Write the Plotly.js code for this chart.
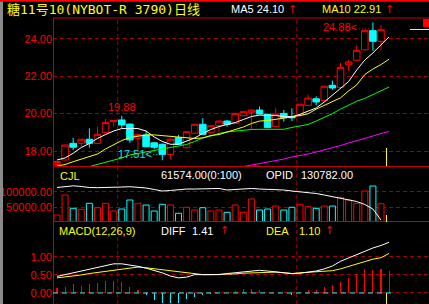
<!DOCTYPE html>
<html><head><meta charset="utf-8">
<script src="https://cdn.plot.ly/plotly-3.0.1.min.js"></script>
<style>html,body{margin:0;padding:0;background:#000;}#chart{width:429px;height:304px;}</style>
</head><body><div id="chart"></div>
<script>
// ---- data ----
const titleText = '糖11号10(NYBOT-R 3790)日线';
const opens  = [17.28,17.52,18.41,18.41,18.63,18.41,19.00,19.57,19.66,19.44,18.68,18.86,18.44,18.36,17.82,18.71,18.18,18.95,19.43,19.00,19.35,19.60,19.48,19.89,20.07,20.19,19.96,19.30,20.01,19.83,19.89,20.44,20.79,20.69,21.51,21.40,22.61,22.85,23.41,24.43,23.86];
const closes = [17.44,18.32,18.20,18.63,18.41,18.89,19.53,19.62,19.39,18.59,18.89,18.23,18.20,17.82,18.63,18.36,19.03,19.43,18.89,19.35,19.60,19.43,20.01,20.10,20.19,19.98,19.25,19.96,19.78,19.78,20.50,20.83,20.62,21.46,21.37,22.47,22.76,23.38,24.43,23.86,24.48];
const highs  = [17.47,18.35,18.71,18.65,19.21,19.30,19.71,19.64,19.88,19.47,18.92,19.07,18.47,18.40,18.66,18.86,19.06,19.46,19.75,19.38,19.63,19.66,20.04,20.13,20.22,20.37,19.99,20.31,20.19,20.28,20.53,21.01,20.92,21.49,21.76,22.70,22.88,23.65,24.46,24.88,24.72];
const lows   = [17.26,17.50,18.05,18.23,18.18,18.38,18.97,19.30,19.21,18.44,18.05,18.20,18.09,17.51,17.55,18.33,18.15,18.92,18.86,18.97,19.03,19.30,19.45,19.86,19.12,19.95,19.22,19.27,19.57,19.60,19.86,20.41,20.44,20.66,21.28,21.37,22.26,22.82,23.38,23.36,23.41];
const volumes = [25300,89400,46800,43600,62800,48700,62800,38100,44500,73400,62800,57400,38100,59600,57400,30800,50000,41300,48700,38100,41300,34000,57400,34000,76600,41300,44500,54200,41300,50000,59600,51900,46800,54200,54200,82000,73400,62800,102200,118300,61574];
const openInterest = [171400,172300,173500,172700,171400,171200,171200,171400,172000,172400,172000,170800,168900,167000,167700,168900,169500,169500,169500,170200,170200,168300,168900,170200,170200,169500,169200,168700,168300,167000,166000,165800,163900,162000,160100,158500,156400,153900,150200,144500,130782];
const ma5  = [17.52,17.63,17.88,18.19,18.40,18.67,18.88,19.07,19.20,19.21,19.20,19.07,18.75,18.51,18.36,18.36,18.51,18.70,18.94,19.15,19.31,19.42,19.52,19.68,19.84,19.92,19.92,19.90,19.84,19.83,19.96,20.15,20.30,20.62,20.99,21.39,21.71,22.33,22.86,23.24,23.66,24.10];
const ma10 = [17.20,17.28,17.43,17.57,17.71,17.84,18.11,18.32,18.56,18.72,18.80,18.86,18.86,18.83,18.78,18.75,18.70,18.67,18.70,18.83,18.88,19.02,19.15,19.28,19.47,19.60,19.63,19.68,19.74,19.82,19.90,19.99,20.24,20.43,20.65,20.84,21.21,21.53,22.09,22.38,22.62,22.91];
const ma20 = [null,null,null,null,17.17,17.28,17.41,17.52,17.63,17.79,17.87,17.97,18.05,18.13,18.21,18.29,18.35,18.51,18.70,18.80,18.94,19.02,19.07,19.11,19.15,19.16,19.16,19.16,19.16,19.26,19.34,19.42,19.60,19.79,20.00,20.24,20.46,20.66,20.81,21.02,21.21,21.42];
const ma60 = [null,null,null,null,null,null,null,null,null,null,null,null,null,null,null,null,null,null,null,null,null,null,null,17.17,17.25,17.33,17.41,17.47,17.57,17.68,17.75,17.84,17.95,18.05,18.16,18.29,18.43,18.54,18.67,18.80,18.94,19.04];
const diff = [0.46,0.51,0.56,0.61,0.66,0.72,0.76,0.81,0.81,0.78,0.74,0.69,0.63,0.56,0.47,0.42,0.44,0.51,0.51,0.51,0.51,0.54,0.56,0.59,0.61,0.63,0.61,0.58,0.56,0.54,0.55,0.58,0.61,0.67,0.75,0.88,0.97,1.06,1.17,1.25,1.32,1.41];
const dea  = [0.42,0.44,0.47,0.50,0.54,0.57,0.60,0.63,0.66,0.68,0.72,0.70,0.67,0.64,0.61,0.58,0.56,0.53,0.51,0.51,0.51,0.51,0.53,0.55,0.56,0.58,0.58,0.58,0.56,0.54,0.56,0.58,0.58,0.60,0.62,0.67,0.74,0.81,0.88,0.94,0.98,1.10];
const macdHist = [0.14,0.17,0.25,0.20,0.25,0.28,0.32,0.32,0.31,0.18,0.07,-0.05,-0.20,-0.27,-0.27,-0.27,-0.18,-0.11,-0.06,-0.02,-0.01,-0.01,0.06,0.11,0.11,0.08,-0.01,-0.01,-0.01,-0.05,-0.01,0.07,0.07,0.16,0.23,0.31,0.43,0.53,0.66,0.65,0.67,0.61];
const priceTicks = [18, 20, 22, 24];
const volTicks = [50000, 100000];
const macdTicks = [0, 0.5, 1];
const markHighA = 8, markHighB = 39, markLow = 13;

// ---- helpers / styles ----
const RED = '#ff0000', CYAN = '#00ffff', YEL = '#ffff00', WHITE = '#ffffff';
const GRID = '#a00000', PLINE = '#c80000';
const SANS = 'Liberation Sans, Arial, sans-serif';
const px2x = p => (p - 53) / 375;
const px2y = p => 1 - (p - 18) / 286;
const idx = opens.map((_, i) => i);
const idxL = ma5.map((_, i) => i);
const up = opens.map((o, i) => closes[i] >= o);
const volColors = up.map(u => u ? RED : CYAN);
const histColors = macdHist.map(v => v >= 0 ? RED : CYAN);
const last = a => a[a.length - 1];

const traces = [
  {type:'candlestick', x:idx, open:opens, high:highs, low:lows, close:closes, xaxis:'x', yaxis:'y',
   increasing:{line:{color:RED, width:1}, fillcolor:'#000000'},
   decreasing:{line:{color:CYAN, width:1}, fillcolor:CYAN},
   whiskerwidth:0, hoverinfo:'skip', showlegend:false},
  {type:'scatter', mode:'lines', x:idxL, y:ma60, yaxis:'y', line:{color:'#ff00ff', width:1}, hoverinfo:'skip', showlegend:false},
  {type:'scatter', mode:'lines', x:idxL, y:ma20, yaxis:'y', line:{color:'#00ff00', width:1}, hoverinfo:'skip', showlegend:false},
  {type:'scatter', mode:'lines', x:idxL, y:ma10, yaxis:'y', line:{color:YEL, width:1}, hoverinfo:'skip', showlegend:false},
  {type:'scatter', mode:'lines', x:idxL, y:ma5, yaxis:'y', line:{color:WHITE, width:1}, hoverinfo:'skip', showlegend:false},
  {type:'bar', x:idx, y:volumes, yaxis:'y2', width:0.74,
   marker:{color:'#000000', line:{color:volColors, width:1}}, hoverinfo:'skip', showlegend:false},
  {type:'scatter', mode:'lines', x:idx, y:openInterest, yaxis:'y4', line:{color:WHITE, width:1}, hoverinfo:'skip', showlegend:false},
  {type:'bar', x:idxL, y:macdHist, yaxis:'y3', width:0.14,
   marker:{color:histColors, line:{width:0}}, hoverinfo:'skip', showlegend:false},
  {type:'scatter', mode:'lines', x:idxL, y:dea, yaxis:'y3', line:{color:YEL, width:1}, hoverinfo:'skip', showlegend:false},
  {type:'scatter', mode:'lines', x:idxL, y:diff, yaxis:'y3', line:{color:WHITE, width:1}, hoverinfo:'skip', showlegend:false}
];

const yCommon = {anchor:'x', showgrid:true, gridcolor:GRID, gridwidth:1, griddash:'4px,3px',
  zeroline:false, showline:false, ticks:'', tickformat:'.2f',
  tickfont:{family:SANS, size:11, color:RED}, fixedrange:true};

const ann = (px, py, text, color, extra) => Object.assign({xref:'paper', yref:'paper',
  x:px2x(px - 1), y:px2y(py), xanchor:'left', yanchor:'middle', text:text, showarrow:false,
  font:{family:SANS, size:11, color:color}}, extra || {});
const arrow = (px, py) => ann(px, py, '↑', RED, {font:{family:'DejaVu Sans, sans-serif', size:11, color:RED}});

const annotations = [
  ann(6, 9, titleText, YEL, {font:{family:'DejaVu Sans Mono, Noto Sans CJK SC, monospace', size:13, color:YEL}}),
  ann(230, 9, 'MA5 ' + last(ma5).toFixed(2), WHITE), arrow(287, 9),
  ann(321, 9, 'MA10 ' + last(ma10).toFixed(2), YEL), arrow(384, 9),
  ann(59, 176, 'CJL', YEL),
  ann(160, 174.5, last(volumes).toFixed(2) + '(0:100)', WHITE),
  ann(265, 174.5, 'OPID', WHITE),
  ann(300, 174.5, last(openInterest).toFixed(2), WHITE),
  ann(58, 230.5, 'MACD(12,26,9)', YEL),
  ann(160, 230.5, 'DIFF', WHITE), ann(191, 230.5, last(diff).toFixed(2), WHITE), arrow(219, 230.5),
  ann(265, 230.5, 'DEA', YEL), ann(298, 230.5, last(dea).toFixed(2), YEL), arrow(324, 230.5),
  {xref:'x', yref:'y', x:markHighA, y:highs[markHighA], text:highs[markHighA].toFixed(2), showarrow:false,
   xanchor:'center', yanchor:'middle', yshift:9, font:{family:SANS, size:11, color:RED}},
  {xref:'x', yref:'y', x:markHighB, y:highs[markHighB], text:highs[markHighB].toFixed(2) + '<', showarrow:false,
   xanchor:'right', yanchor:'middle', xshift:-14, yshift:-5, font:{family:SANS, size:11, color:RED}},
  {xref:'x', yref:'y', x:markLow, y:lows[markLow], text:lows[markLow].toFixed(2) + '<', showarrow:false,
   xanchor:'right', yanchor:'middle', xshift:-8, yshift:6, font:{family:SANS, size:11, color:'#20e0e0'}}
];

const pxPerUnit = 18.72, pxPerIdx = 8.1;
const shapes = [
  {type:'rect', xref:'paper', yref:'paper', x0:px2x(0), x1:px2x(3), y0:px2y(304), y1:px2y(0), fillcolor:'#8a8a8a', line:{width:0}},
  {type:'line', xref:'paper', yref:'paper', x0:px2x(0), x1:px2x(429), y0:px2y(0.8), y1:px2y(0.8), line:{color:RED, width:2}},
  {type:'line', xref:'paper', yref:'paper', x0:0, x1:px2x(429), y0:1, y1:1, line:{color:PLINE, width:1}},
  {type:'line', xref:'paper', yref:'paper', x0:0, x1:px2x(429), y0:px2y(166.5), y1:px2y(166.5), line:{color:PLINE, width:1}},
  {type:'line', xref:'paper', yref:'paper', x0:0, x1:px2x(429), y0:px2y(221.5), y1:px2y(221.5), line:{color:PLINE, width:1}},
  {type:'line', xref:'paper', yref:'paper', x0:px2x(53.5), x1:px2x(53.5), y0:0, y1:1, line:{color:PLINE, width:1}},
  {type:'line', xref:'x', yref:'paper', x0:7.5, x1:7.5, y0:0, y1:1, layer:'below', line:{color:GRID, width:1, dash:'4px,3px'}},
  {type:'line', xref:'x', yref:'paper', x0:29.6, x1:29.6, y0:0, y1:1, layer:'below', line:{color:GRID, width:1, dash:'4px,3px'}},
  {type:'line', xref:'x', yref:'y3', x0:-0.49, x1:41.6, y0:0, y1:0, line:{color:CYAN, width:1, dash:'5px,4px'}},
  {type:'line', xref:'paper', yref:'paper', x0:px2x(386.5), x1:px2x(386.5), y0:px2y(166), y1:px2y(148), line:{color:YEL, width:1}},
  {type:'line', xref:'paper', yref:'paper', x0:px2x(386.5), x1:px2x(386.5), y0:px2y(222), y1:px2y(215), line:{color:YEL, width:1}},
  {type:'line', xref:'paper', yref:'paper', x0:px2x(386.5), x1:px2x(386.5), y0:px2y(304), y1:px2y(293), line:{color:YEL, width:1}},
  {type:'rect', xref:'paper', yref:'paper', x0:px2x(423), x1:px2x(429), y0:px2y(27), y1:px2y(19), fillcolor:RED, line:{width:0}},
  {type:'line', xref:'paper', yref:'paper', x0:px2x(410), x1:px2x(429), y0:px2y(29.5), y1:px2y(29.5), line:{color:YEL, width:1}},
  {type:'line', xref:'x', yref:'y', x0:markHighB - 14/pxPerIdx, x1:markHighB - 0.1,
   y0:highs[markHighB] - 6.8/pxPerUnit, y1:highs[markHighB] - 6.8/pxPerUnit, line:{color:RED, width:1, dash:'1px,2px'}},
  {type:'line', xref:'x', yref:'y', x0:markLow - 9/pxPerIdx, x1:markLow - 0.3,
   y0:lows[markLow] + 5.5/pxPerUnit, y1:lows[markLow] + 5.5/pxPerUnit, line:{color:'#20e0e0', width:1, dash:'1px,2px'}}
];

const layout = {
  width:429, height:304, margin:{l:53, r:1, t:18, b:0, pad:0},
  paper_bgcolor:'#000000', plot_bgcolor:'#000000',
  showlegend:false, hovermode:false, dragmode:false,
  boxgap:0.1, boxgroupgap:0.1, bargap:0,
  xaxis:{domain:[0,1], range:[-0.49, 45.8], visible:false, anchor:'y3', rangeslider:{visible:false}, fixedrange:true},
  yaxis:Object.assign({}, yCommon, {domain:[px2y(166), 1], range:[17.20, 25.106], tickvals:priceTicks}),
  yaxis2:Object.assign({}, yCommon, {domain:[px2y(222), px2y(167)], range:[2900, 179200], tickvals:volTicks}),
  yaxis3:Object.assign({}, yCommon, {domain:[0, px2y(222)], range:[-0.306, 1.972], tickvals:macdTicks}),
  yaxis4:{overlaying:'y2', anchor:'x', visible:false, range:[128282, 197032], fixedrange:true},
  annotations:annotations, shapes:shapes
};

Plotly.newPlot('chart', traces, layout, {staticPlot:true, displayModeBar:false});
</script></body></html>
